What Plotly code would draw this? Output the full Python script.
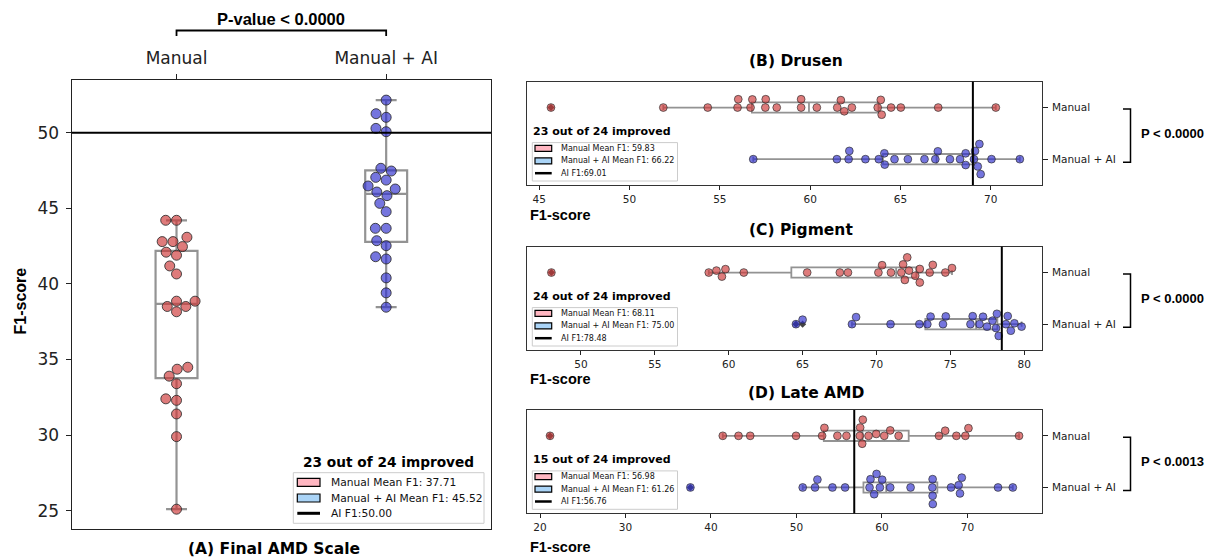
import numpy as np
import plotly.graph_objects as go

W, H = 1211, 558

# ---------------- data ----------------
groups = ["Manual", "Manual + AI"]
panel_titles = ["(A) Final AMD Scale", "(B) Drusen", "(C) Pigment", "(D) Late AMD"]

final_manual = [44.21, 44.21, 43.09, 42.8, 42.8, 42.47, 41.9, 42.1, 41.19, 40.66, 38.86, 38.86,
                38.51, 38.51, 38.16, 34.49, 34.36, 33.9, 33.4, 32.4, 32.3, 31.4, 29.9, 25.1]
final_ai = [52.16, 51.26, 51.02, 50.29, 50.07, 47.47, 47.65, 47.05, 46.87, 46.48, 46.28, 46.08,
            45.84, 45.33, 44.78, 43.68, 43.68, 42.86, 42.53, 41.8, 41.65, 40.4, 39.41, 38.46]

drusen_manual = [45.65, 51.87, 54.33, 55.98, 56.02, 56.7, 56.8, 57.52, 57.54, 58.15, 59.5, 59.5,
                 60.37, 61.5, 61.7, 61.89, 62.31, 63.74, 63.91, 63.96, 64.48, 65.02, 67.09, 70.28]
drusen_ai = [56.85, 61.48, 62.13, 62.17, 63.06, 63.8, 64.11, 64.13, 64.67, 65.41, 66.33, 66.93,
             67.07, 67.74, 68.3, 68.61, 68.61, 69.07, 69.13, 69.37, 69.28, 69.44, 70.04, 71.61]

pigment_manual = [48.0, 58.65, 59.17, 59.54, 59.78, 61.02, 65.31, 67.52, 68.07, 70.13, 70.38, 70.98,
                  71.68, 71.8, 71.92, 72.08, 72.2, 72.62, 72.93, 72.93, 73.6, 73.81, 74.66, 75.11]
pigment_ai = [64.55, 65.0, 68.34, 68.62, 70.95, 72.9, 73.44, 73.66, 74.5, 74.69, 76.36, 76.51,
              76.97, 77.21, 77.48, 77.85, 78.09, 78.15, 78.27, 78.76, 78.88, 79.09, 79.33, 79.82]

late_manual = [21.17, 41.38, 43.22, 44.59, 49.95, 53.0, 53.27, 54.79, 55.85, 57.41, 57.45, 57.76,
               57.69, 58.43, 59.33, 60.27, 60.97, 61.95, 66.67, 67.4, 68.71, 69.76, 70.12, 76.04]
late_ai = [37.59, 50.73, 52.17, 52.45, 54.21, 55.69, 58.55, 59.09, 58.66, 59.37, 59.76, 60.03,
           60.97, 63.35, 65.9, 65.93, 65.95, 65.93, 68.08, 68.97, 69.13, 69.34, 73.58, 75.31]

manual_mean_f1 = [37.71, 59.83, 68.11, 56.98]
ai_mean_f1 = [45.52, 66.22, 75.00, 61.26]
ai_f1 = [50.00, 69.01, 78.48, 56.76]
improved = [23, 23, 24, 15]
n_readers = 24
p_labels = ["P-value < 0.0000", "P < 0.0000", "P < 0.0000", "P < 0.0013"]
a_yticks = [25, 30, 35, 40, 45, 50]
bcd_xticks = [[45, 50, 55, 60, 65, 70], [50, 55, 60, 65, 70, 75, 80], [20, 30, 40, 50, 60, 70]]

# ---------------- styling / layout constants ----------------
RED = "rgba(205,55,55,0.66)"
BLUE = "rgba(45,45,205,0.66)"
EDGE = "rgba(45,45,45,0.85)"
BOXC = "rgba(128,128,128,0.85)"
PINK = "#ffb6c1"
LBLUE = "#aad4f7"
DJ = "DejaVu Sans"
AR = "Liberation Sans, Arial"


def px(x):
    return x / W


def py(y):
    return 1 - y / H


# panel frames (pixel boxes)
A_frame = (71.7, 491.0, 80.0, 528.7)  # left, right, top, bottom
A_yrange = [23.81, 53.49]
R_left, R_right = 527.3, 1041.7
R_frames = [(81.7, 185.0), (246.7, 350.0), (410.0, 513.3)]
R_xranges = [[44.34, 72.82], [46.37, 81.18], [18.51, 78.69]]


def box_stats(values):
    v = np.asarray(values, float)
    q1, med, q3 = np.percentile(v, [25, 50, 75])
    iqr = q3 - q1
    inside = v[(v >= q1 - 1.5 * iqr) & (v <= q3 + 1.5 * iqr)]
    out = v[(v < q1 - 1.5 * iqr) | (v > q3 + 1.5 * iqr)]
    return q1, med, q3, inside.min(), inside.max(), out


def swarm_offsets(values, ppu, diam):
    """seaborn-like beeswarm: returns offsets in pixels along the category axis"""
    v = np.asarray(values, float) * ppu
    order = np.argsort(v, kind="stable")
    placed = []
    offs = np.zeros(len(v))
    for idx in order:
        y = v[idx]
        neigh = [(xj, yj) for (xj, yj) in placed if abs(y - yj) < diam]
        cands = [0.0]
        left_first = True
        for xj, yj in reversed(neigh):
            dx = np.sqrt(max(diam * diam - (y - yj) ** 2, 0)) * 1.05
            cands += [xj - dx, xj + dx] if left_first else [xj + dx, xj - dx]
            left_first = not left_first
        cands.sort(key=abs)
        chosen = cands[0]
        for c in cands:
            if all((c - xj) ** 2 + (y - yj) ** 2 >= diam * diam - 1e-6 for xj, yj in neigh):
                chosen = c
                break
        placed.append((chosen, y))
        offs[idx] = chosen
    return offs


fig = go.Figure()
shapes = []
annos = []


def add_box(vals, pos, horizontal, ax, lw, msize):
    q1, med, q3, lf, uf, out = box_stats(vals)
    common = dict(q1=[q1], median=[med], q3=[q3], lowerfence=[lf], upperfence=[uf], width=0.2,
                  boxpoints=False, line=dict(color=BOXC, width=lw), fillcolor="rgba(255,255,255,0)",
                  whiskerwidth=0.5, showlegend=False, hoverinfo="skip",
                  xaxis="x" + ax, yaxis="y" + ax)
    if horizontal:
        fig.add_trace(go.Box(y=[pos], orientation="h", **common))
        ox, oy = list(out), [pos] * len(out)
    else:
        fig.add_trace(go.Box(x=[pos], orientation="v", **common))
        ox, oy = [pos] * len(out), list(out)
    if len(out):
        fig.add_trace(go.Scatter(x=ox, y=oy, mode="markers", showlegend=False, hoverinfo="skip",
                                 marker=dict(symbol="diamond", size=msize, color="#444"),
                                 xaxis="x" + ax, yaxis="y" + ax))


# ---------------- Panel A ----------------
a_cat_ppu = (A_frame[1] - A_frame[0]) / 2.0
a_val_ppu = (A_frame[3] - A_frame[2]) / (A_yrange[1] - A_yrange[0])
for gi, (vals, col) in enumerate([(final_manual, RED), (final_ai, BLUE)]):
    add_box(vals, gi, False, "", 2.2, 6)
    off = swarm_offsets(vals, a_val_ppu, 10.3) / a_cat_ppu
    fig.add_trace(go.Scatter(x=gi + off, y=vals, mode="markers", showlegend=False,
                             marker=dict(size=10, color=col, line=dict(color=EDGE, width=1)),
                             xaxis="x", yaxis="y"))

shapes.append(dict(type="line", xref="x domain", x0=0, x1=1, yref="y", y0=ai_f1[0], y1=ai_f1[0],
                   line=dict(color="black", width=2.2)))
# top bracket
shapes.append(dict(type="path", xref="x", yref="paper",
                   path=f"M 0,{py(36)} V {py(30.5)} H 1 V {py(36)}",
                   line=dict(color="black", width=1.8)))
annos.append(dict(x=0.5, xref="x", y=py(19), yref="paper", text=p_labels[0], showarrow=False,
                  font=dict(family=AR, size=16.5, color="black", weight="bold"),
                  xanchor="center", yanchor="middle"))
annos.append(dict(x=px(274), y=py(549), xref="paper", yref="paper", text=panel_titles[0],
                  showarrow=False, font=dict(family=DJ, size=15.5, color="black", weight="bold"),
                  xanchor="center", yanchor="middle"))
annos.append(dict(x=px(19.5), y=py(301), xref="paper", yref="paper", text="F1-score", textangle=-90,
                  showarrow=False, font=dict(family=AR, size=16, color="black", weight="bold"),
                  xanchor="center", yanchor="middle"))


def add_legend(bx0, by0, bx1, by1, title, tcx, tcy, entries, rows, patch, text_x, tfs, fs, lw):
    shapes.append(dict(type="rect", xref="paper", yref="paper", x0=px(bx0), x1=px(bx1),
                       y0=py(by1), y1=py(by0), line=dict(color="#cccccc", width=1),
                       fillcolor="rgba(255,255,255,0.8)", layer="above"))
    annos.append(dict(x=px(tcx), y=py(tcy), xref="paper", yref="paper", text=title, showarrow=False,
                      font=dict(family=DJ, size=tfs, color="black", weight="bold"),
                      xanchor="center", yanchor="middle"))
    for (label, kind, color), ry in zip(entries, rows):
        if kind == "patch":
            shapes.append(dict(type="rect", xref="paper", yref="paper", x0=px(patch[0]), x1=px(patch[1]),
                               y0=py(ry + patch[2] / 2), y1=py(ry - patch[2] / 2),
                               line=dict(color="black", width=1.2), fillcolor=color, layer="above"))
        else:
            shapes.append(dict(type="line", xref="paper", yref="paper", x0=px(patch[0]), x1=px(patch[1]),
                               y0=py(ry), y1=py(ry), line=dict(color="black", width=lw), layer="above"))
        annos.append(dict(x=px(text_x), y=py(ry), xref="paper", yref="paper", text=label,
                          showarrow=False, font=dict(family=DJ, size=fs, color="#111"),
                          xanchor="left", yanchor="middle"))


def entries_for(i):
    return [(f"Manual Mean F1: {manual_mean_f1[i]:.2f}", "patch", PINK),
            (f"Manual + AI Mean F1: {ai_mean_f1[i]:.2f}", "patch", LBLUE),
            (f"AI F1:{ai_f1[i]:.2f}", "line", "black")]


add_legend(293.3, 472.7, 484.0, 523.3, f"{improved[0]} out of {n_readers} improved", 388.7, 462.0,
           entries_for(0), [482.3, 498.0, 513.3], (297.3, 320.0, 8), 329.3, 13.7, 10.7, 3)

# ---------------- Panels B, C, D ----------------
rdata = [(drusen_manual, drusen_ai), (pigment_manual, pigment_ai), (late_manual, late_ai)]
title_pos = [(796, 60.7), (801, 229.5), (806, 392.5)]
f1_label_y = [214.5, 379.0, 546.5]
for k in range(3):
    ax = str(k + 2)
    top, bot = R_frames[k]
    cat_ppu = (bot - top) / 2.0
    val_ppu = (R_right - R_left) / (R_xranges[k][1] - R_xranges[k][0])
    for gi, (vals, col) in enumerate([(rdata[k][0], RED), (rdata[k][1], BLUE)]):
        add_box(vals, gi, True, ax, 1.8, 5.5)
        off = swarm_offsets(vals, val_ppu, 7.9) / cat_ppu
        fig.add_trace(go.Scatter(x=vals, y=gi + off, mode="markers", showlegend=False,
                                 marker=dict(size=7.8, color=col, line=dict(color=EDGE, width=0.8)),
                                 xaxis="x" + ax, yaxis="y" + ax))
    shapes.append(dict(type="line", xref="x" + ax, x0=ai_f1[k + 1], x1=ai_f1[k + 1],
                       yref="y" + ax + " domain", y0=0, y1=1, line=dict(color="black", width=2)))
    # p-value bracket
    shapes.append(dict(type="path", xref="paper", yref="y" + ax,
                       path=f"M {px(1123)},0.03 H {px(1130.5)} V 1.06 H {px(1123)}",
                       line=dict(color="black", width=1.5)))
    annos.append(dict(x=px(1139), y=0.5, xref="paper", yref="y" + ax, text=p_labels[k + 1],
                      showarrow=False, font=dict(family=AR, size=13, color="black", weight="bold"),
                      xanchor="left", yanchor="middle"))
    annos.append(dict(x=px(title_pos[k][0]), y=py(title_pos[k][1]), xref="paper", yref="paper",
                      text=panel_titles[k + 1], showarrow=False,
                      font=dict(family=DJ, size=15.5, color="black", weight="bold"),
                      xanchor="center", yanchor="middle"))
    annos.append(dict(x=px(527.5), y=py(f1_label_y[k]), xref="paper", yref="paper", text="F1-score",
                      showarrow=False, font=dict(family=AR, size=14.5, color="black", weight="bold"),
                      xanchor="left", yanchor="middle"))
    lb = bot - 4.0
    lt = lb - 38.4
    add_legend(532.3, lt, 677.5, lb, f"{improved[k + 1]} out of {n_readers} improved", 602.0, lt - 11.5,
               entries_for(k + 1), [lt + 5.8, lt + 18.3, lt + 30.6], (535.0, 551.7, 6), 559.0, 11, 8, 2.5)

# ---------------- axes ----------------
layout_axes = {}
layout_axes["xaxis"] = dict(domain=[px(A_frame[0]), px(A_frame[1])], range=[-0.5, 1.5], side="top",
                            tickvals=[0, 1], ticktext=groups, ticks="outside", ticklen=5, tickwidth=1.2,
                            tickcolor="#222", ticklabelstandoff=3,
                            showline=True, mirror=True, linecolor="#222", linewidth=1.4,
                            showgrid=False, zeroline=False, anchor="y",
                            tickfont=dict(family=DJ, size=17, color="#222"))
layout_axes["yaxis"] = dict(domain=[py(A_frame[3]), py(A_frame[2])], range=A_yrange,
                            tickvals=a_yticks, ticks="outside", ticklen=5, tickwidth=1.2, tickcolor="#222",
                            ticklabelstandoff=3,
                            showline=True, mirror=True, linecolor="#222", linewidth=1.4,
                            showgrid=False, zeroline=False, anchor="x",
                            tickfont=dict(family=DJ, size=17, color="#222"))
for k in range(3):
    ax = str(k + 2)
    top, bot = R_frames[k]
    layout_axes["xaxis" + ax] = dict(domain=[px(R_left), px(R_right)], range=R_xranges[k],
                                     tickvals=bcd_xticks[k], ticks="outside", ticklen=4, tickwidth=1,
                                     tickcolor="#222", showline=True, mirror=True, linecolor="#333",
                                     linewidth=1.3, showgrid=False, zeroline=False, anchor="y" + ax,
                                     tickfont=dict(family=DJ, size=10.5, color="#222"))
    layout_axes["yaxis" + ax] = dict(domain=[py(bot), py(top)], range=[1.5, -0.5], side="right",
                                     tickvals=[0, 1], ticktext=groups, ticks="outside", ticklen=5,
                                     tickwidth=1, tickcolor="#222", ticklabelstandoff=2,
                                     showline=True, mirror=True, linecolor="#333", linewidth=1.3,
                                     showgrid=False, zeroline=False, anchor="x" + ax,
                                     tickfont=dict(family=DJ, size=10.5, color="#222"))

fig.update_layout(width=W, height=H, margin=dict(l=0, r=0, t=0, b=0),
                  paper_bgcolor="white", plot_bgcolor="white", showlegend=False,
                  shapes=shapes, annotations=annos, **layout_axes)

fig.write_html("out.html", config={"displayModeBar": False},
               post_script="document.body.style.margin='0';")
